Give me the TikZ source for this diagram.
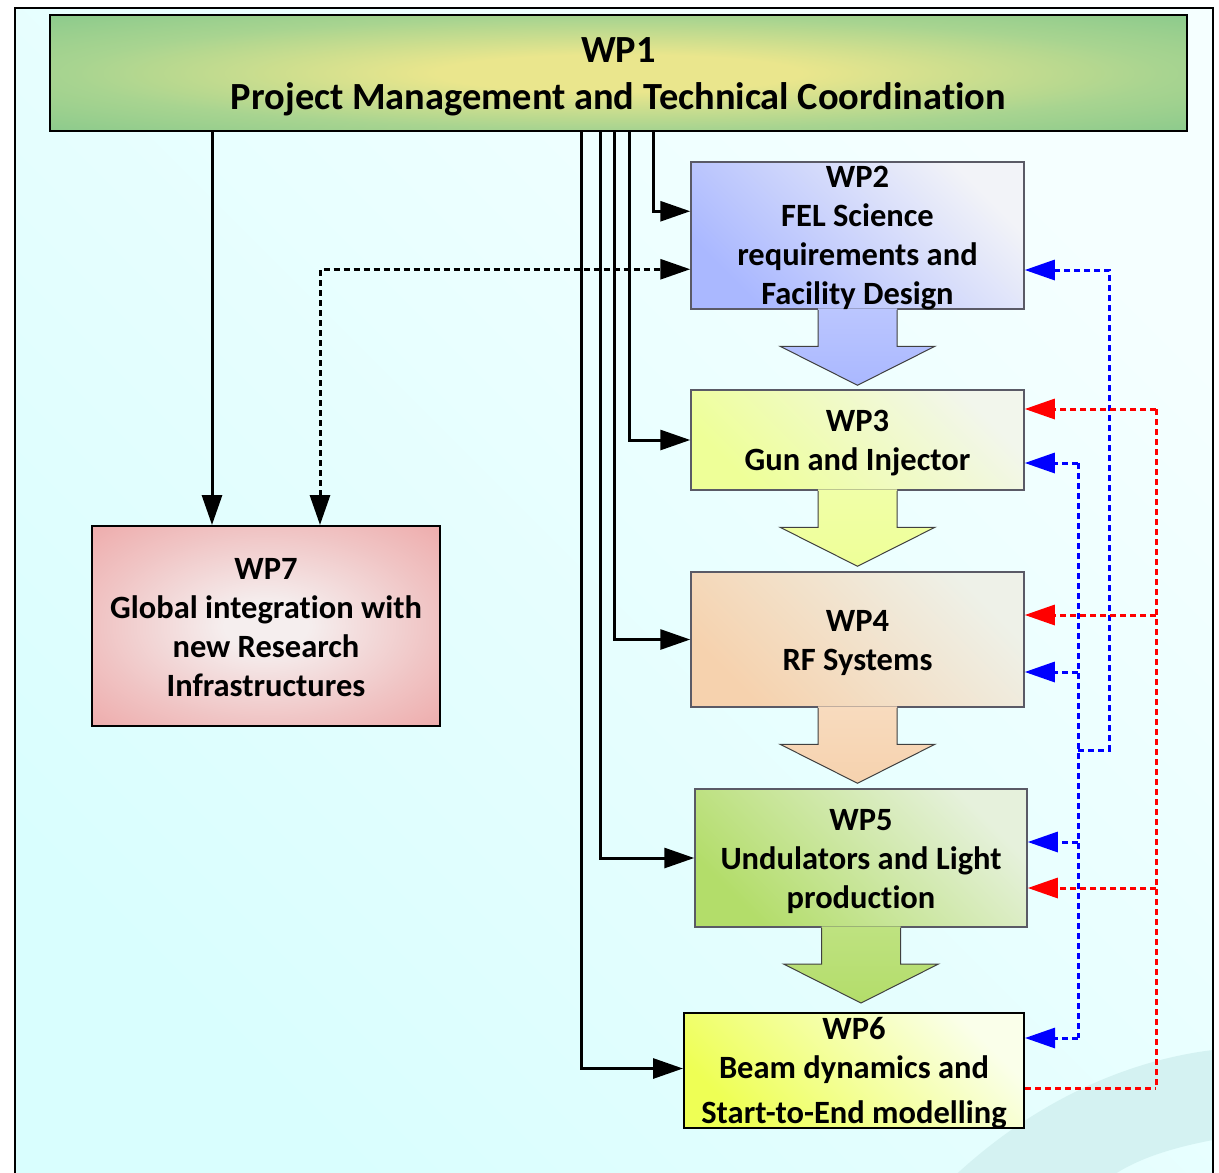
\documentclass[tikz,border=0pt]{standalone}
\usepackage{fontspec}
\setmainfont{Carlito}[Ligatures={NoCommon,NoRare}]
\usetikzlibrary{arrows.meta,calc}
\definecolor{bgdark}{HTML}{D9FEFE}
\definecolor{bglight}{HTML}{F5FFFF}
\definecolor{swoosh}{HTML}{D4F2F2}
\definecolor{oneY}{HTML}{EAE68D}
\definecolor{oneM}{HTML}{A8D490}
\definecolor{oneG}{HTML}{7CC58A}
\definecolor{sevW}{HTML}{F5EEEE}
\definecolor{sevM}{HTML}{F0C4C4}
\definecolor{sevR}{HTML}{EC9696}
\definecolor{twoD}{HTML}{AAB8FF}
\definecolor{twoL}{HTML}{F2F3F8}
\definecolor{thrD}{HTML}{EEFF98}
\definecolor{thrL}{HTML}{F2F6EC}
\definecolor{fouD}{HTML}{F6D2AE}
\definecolor{fouL}{HTML}{EEF1E8}
\definecolor{fivD}{HTML}{B3DD6A}
\definecolor{fivL}{HTML}{E6F1DC}
\definecolor{sixD}{HTML}{EEFF55}
\definecolor{sixL}{HTML}{FAFFEA}
\definecolor{edgegray}{HTML}{5A5A66}
\definecolor{arrline}{HTML}{404040}
\pgfdeclareradialshading{oneglow}{\pgfpoint{0bp}{0bp}}{color(0bp)=(oneY); color(8bp)=(oneY); color(24bp)=(oneM); color(42bp)=(oneG); color(100bp)=(oneG)}
\pgfdeclareradialshading{sevglow}{\pgfpoint{0bp}{0bp}}{color(0bp)=(sevW); color(6bp)=(sevW); color(24bp)=(sevM); color(46bp)=(sevR); color(100bp)=(sevR)}
\tikzset{
  wpbox/.style={rectangle, inner sep=0pt, line width=1.5pt},
  wptext/.style={align=center, inner sep=0pt, text=black, font=\fontsize{32.5}{39}\selectfont\bfseries},
  blockline/.style={draw=arrline, line width=1pt, line join=miter},
  bigtip/.style={-{Triangle[length=30pt,width=20pt]}},
  blk/.style={line width=3pt, draw=black, bigtip},
  blkdot/.style={line width=3pt, draw=black, dash pattern=on 6pt off 4pt, {Triangle[length=30pt,width=20pt]}-{Triangle[length=30pt,width=20pt]}},
  bdot/.style={line width=3pt, draw=blue, dash pattern=on 6pt off 4pt},
  rdot/.style={line width=3pt, draw=red, dash pattern=on 6pt off 4pt},
  tip/.style={bigtip}
}
\newcommand\blockarr[5]{%
  \shade[top color=#4, bottom color=#3] let \p1=(#1.south), \p2=(#2.north) in
    (\x1-39.5pt,\y1+1.5pt) -- (\x1-39.5pt,\y2+#5pt+39pt) -- (\x1-77.5pt,\y2+#5pt+39pt) -- (\x1,\y2+#5pt)
    -- (\x1+77.5pt,\y2+#5pt+39pt) -- (\x1+39.5pt,\y2+#5pt+39pt) -- (\x1+39.5pt,\y1+1.5pt) -- cycle;
  \draw[blockline] let \p1=(#1.south), \p2=(#2.north) in
    (\x1-39.5pt,\y1) -- (\x1-39.5pt,\y2+#5pt+39pt) -- (\x1-77.5pt,\y2+#5pt+39pt) -- (\x1,\y2+#5pt)
    -- (\x1+77.5pt,\y2+#5pt+39pt) -- (\x1+39.5pt,\y2+#5pt+39pt) -- (\x1+39.5pt,\y1);
}
\begin{document}
\begin{tikzpicture}[x=1pt,y=-1pt]
\useasboundingbox (0,0) rectangle (1219,1173);
\clip (0,0) rectangle (1219,1173);
\fill[white] (0,0) rectangle (1219,1173);
% background frame
\shade[bottom color=bgdark, top color=bglight, shading angle=-45] (15,8) rectangle (1213,1190);
\fill[swoosh] (940,1190) .. controls (1030,1100) and (1130,1060) .. (1213,1050) -- (1213,1140) .. controls (1160,1150) and (1120,1165) .. (1095,1190) -- cycle;
\draw[line width=2pt] (15,8) rectangle (1213,1190);

% boxes
\node[wpbox, draw=black, line width=2pt, shading=oneglow, minimum width=1137pt, minimum height=116pt] (wp1) at (618.5,73) {};
\node[wpbox, draw=edgegray, bottom color=twoD, top color=twoL, shading angle=-45, minimum width=333pt, minimum height=147pt] (wp2) at (857.5,235.5) {};
\node[wpbox, draw=edgegray, bottom color=thrD, top color=thrL, shading angle=-45, minimum width=333pt, minimum height=100pt] (wp3) at (857.5,440) {};
\node[wpbox, draw=edgegray, bottom color=fouD, top color=fouL, shading angle=-45, minimum width=333pt, minimum height=135pt] (wp4) at (857.5,639.5) {};
\node[wpbox, draw=edgegray, bottom color=fivD, top color=fivL, shading angle=-45, minimum width=332pt, minimum height=138pt] (wp5) at (861,858) {};
\node[wpbox, draw=black, line width=2pt, bottom color=sixD, top color=sixL, shading angle=-45, minimum width=340pt, minimum height=115pt] (wp6) at (854,1070.5) {};
\node[wpbox, draw=black, line width=2pt, shading=sevglow, minimum width=348pt, minimum height=200pt] (wp7) at (266,626) {};

% block arrows
\blockarr{wp2}{wp3}{twoD}{twoD!80!white}{4}
\blockarr{wp3}{wp4}{thrD}{thrD!85!white}{5}
\blockarr{wp4}{wp5}{fouD}{fouD!80!white}{5}
\blockarr{wp5}{wp6}{fivD}{fivD!85!white}{9}

% texts
\node[wptext, font=\fontsize{38.4}{47}\selectfont\bfseries] (wp1t) at ($(wp1.center)+(0,4)$) {WP1\\Project Management and Technical Coordination};
\node[wptext] (wp2t) at ($(wp2.center)+(0,3)$) {WP2\\FEL Science\\requirements and\\Facility Design};
\node[wptext] (wp3t) at ($(wp3.center)+(0,3.5)$) {WP3\\Gun and Injector};
\node[wptext] (wp4t) at ($(wp4.center)+(0,3.5)$) {WP4\\RF Systems};
\node[wptext] (wp5t) at ($(wp5.center)+(0,3.5)$) {WP5\\Undulators and Light\\production};
\node[wptext] (wp6t) at ($(wp6.center)+(0,3)$) {WP6\\Beam dynamics and\\[6pt]Start-to-End modelling};
\node[wptext] (wp7t) at ($(wp7.center)+(0,1.5)$) {WP7\\Global integration with\\new Research\\Infrastructures};

% black connectors from WP1
\coordinate (k7) at (212,0);
\coordinate (kd) at (320,0);
\coordinate (k6) at (581,0);
\coordinate (k5) at (600,0);
\coordinate (k4) at (614,0);
\coordinate (k3) at (629,0);
\coordinate (k2) at (653,0);
\draw[blk] (wp1.south -| k7) -- (wp7.north -| k7);
\draw[blk] (wp1.south -| k2) |- ($(wp2.north west)+(0,50)$);
\draw[blk] (wp1.south -| k3) |- (wp3.west);
\draw[blk] (wp1.south -| k4) |- (wp4.west);
\draw[blk] (wp1.south -| k5) |- (wp5.west);
\draw[blk] (wp1.south -| k6) |- ($(wp6.west)+(0,-2)$);
\draw[blkdot] (wp7.north -| kd) |- ($(wp2.north west)+(0,108)$);

% blue feedback bus
\coordinate (b3) at (1078,463);
\coordinate (b4) at (1078,672);
\coordinate (b5) at (1078,842);
\coordinate (b6) at (1078,1038);
\coordinate (bj) at (1078,750);
\coordinate (bk) at (1109,750);
\coordinate (b2) at (1109,270);
\draw[bdot] (b3) -- (b6);
\draw[bdot,tip] (b3) -- (b3 -| wp3.east);
\draw[bdot,tip] (b4) -- (b4 -| wp4.east);
\draw[bdot,tip] (b5) -- (b5 -| wp5.east);
\draw[bdot,tip] (b6) -- (b6 -| wp6.east);
\draw[bdot,tip] (bj) -- (bk) -- (b2) -- (b2 -| wp2.east);

% red feedback bus
\coordinate (r3) at (1156,409);
\coordinate (r4) at (1156,615);
\coordinate (r5) at (1156,888);
\coordinate (r6) at (1156,1088);
\draw[rdot] (r3) -- (r6);
\draw[rdot,tip] (r3) -- (r3 -| wp3.east);
\draw[rdot,tip] (r4) -- (r4 -| wp4.east);
\draw[rdot,tip] (r5) -- (r5 -| wp5.east);
\draw[rdot] (wp6.east |- r6) -- (r6);
\end{tikzpicture}
\end{document}
